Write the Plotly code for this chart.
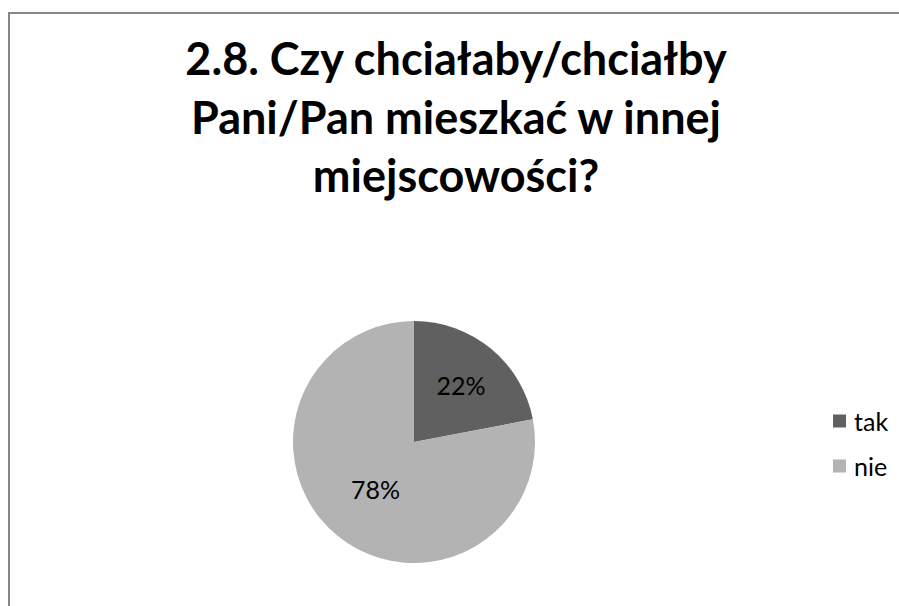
import plotly.graph_objects as go

# Survey answers and their shares (percent)
labels = ["tak", "nie"]
values = [22, 78]
colors = ["#606060", "#b3b3b3"]

title_lines = [
    "2.8. Czy chciałaby/chciałby",
    "Pani/Pan mieszkać w innej",
    "miejscowości?",
]

W, H = 899, 606
FONT = "Lato"


def px_x(x):
    return x / W


def px_y(y):
    return 1 - y / H


# pie placement (pixels)
cx, cy, r = 414, 442, 121

fig = go.Figure(
    go.Pie(
        labels=labels,
        values=values,
        sort=False,
        direction="clockwise",
        rotation=0,
        marker=dict(colors=colors, line=dict(width=0)),
        textinfo="percent",
        textposition="inside",
        insidetextorientation="horizontal",
        textfont=dict(family=FONT, size=25, color="#000000"),
        domain=dict(x=[px_x(cx - r), px_x(cx + r)], y=[px_y(cy + r), px_y(cy - r)]),
        showlegend=False,
        hoverinfo="label+percent",
    )
)

# chart frame
shapes = [
    dict(
        type="rect", xref="paper", yref="paper",
        x0=px_x(9), x1=1.05, y0=-0.05, y1=px_y(13),
        line=dict(color="#868686", width=2), fillcolor="rgba(0,0,0,0)",
    )
]
annotations = []

# legend drawn at the right side of the pie
leg_x, leg_y0, leg_step, sq = 833, 421, 45, 13
for i, (lab, col) in enumerate(zip(labels, colors)):
    yc = leg_y0 + i * leg_step
    shapes.append(dict(
        type="rect", xref="paper", yref="paper",
        x0=px_x(leg_x), x1=px_x(leg_x + sq),
        y0=px_y(yc + sq / 2), y1=px_y(yc - sq / 2),
        line=dict(width=0), fillcolor=col,
    ))
    annotations.append(dict(
        text=lab, xref="paper", yref="paper",
        x=px_x(leg_x + sq + 6), y=px_y(yc), xanchor="left", yanchor="middle",
        showarrow=False, font=dict(family=FONT, size=25, color="#000000"),
    ))

fig.update_layout(
    width=W, height=H,
    margin=dict(l=0, r=0, t=0, b=0),
    paper_bgcolor="#ffffff",
    plot_bgcolor="#ffffff",
    title=dict(
        text="<br>".join(title_lines),
        x=px_x(456), xanchor="center",
        y=px_y(75), yanchor="top",
        font=dict(family=FONT, size=45, color="#000000", weight="bold"),
    ),
    shapes=shapes,
    annotations=annotations,
)

fig.write_html("out.html")
